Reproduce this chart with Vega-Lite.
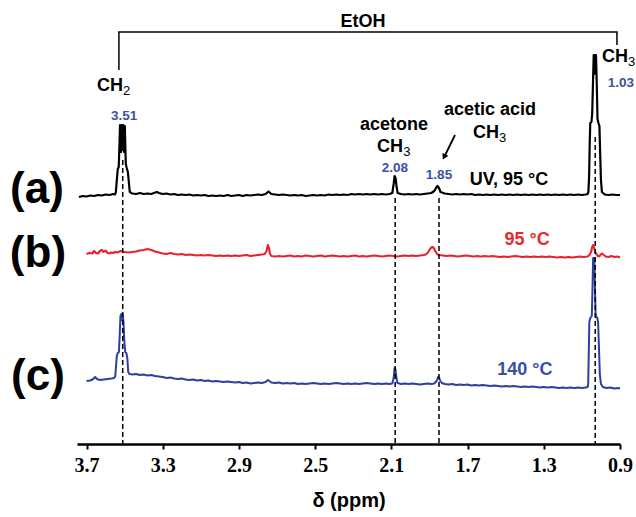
{
  "$schema": "https://vega.github.io/schema/vega-lite/v6.json",
  "width": 543,
  "height": 434,
  "autosize": {"type": "none"},
  "padding": {"left": 77, "top": 10, "right": 16, "bottom": 73},
  "config": {"view": {"stroke": null}, "font": "Liberation Sans"},
  "datasets": {
    "spec": [
      {"s":"a","x":3.74,"y":247},{"s":"a","x":3.72,"y":248},{"s":"a","x":3.70,"y":247.5},{"s":"a","x":3.68,"y":248.5},{"s":"a","x":3.66,"y":248},{"s":"a","x":3.64,"y":249},{"s":"a","x":3.62,"y":248.5},{"s":"a","x":3.60,"y":249.5},{"s":"a","x":3.58,"y":249},{"s":"a","x":3.56,"y":250},{"s":"a","x":3.55,"y":249.5},
      {"s":"a","x":3.546,"y":252},{"s":"a","x":3.541,"y":264},{"s":"a","x":3.536,"y":275},{"s":"a","x":3.531,"y":277},{"s":"a","x":3.527,"y":300},{"s":"a","x":3.524,"y":319},{"s":"a","x":3.519,"y":292},{"s":"a","x":3.515,"y":319},{"s":"a","x":3.511,"y":294},{"s":"a","x":3.507,"y":319},{"s":"a","x":3.503,"y":292},{"s":"a","x":3.499,"y":318},{"s":"a","x":3.494,"y":280},{"s":"a","x":3.489,"y":276},{"s":"a","x":3.483,"y":272},{"s":"a","x":3.478,"y":262},{"s":"a","x":3.473,"y":252},
      {"s":"a","x":3.46,"y":250.5},{"s":"a","x":3.44,"y":250},{"s":"a","x":3.42,"y":251},{"s":"a","x":3.40,"y":250},{"s":"a","x":3.38,"y":250.5},{"s":"a","x":3.36,"y":250},{"s":"a","x":3.34,"y":251.5},{"s":"a","x":3.33,"y":252},{"s":"a","x":3.32,"y":251},{"s":"a","x":3.30,"y":250},{"s":"a","x":3.28,"y":250.5},{"s":"a","x":3.26,"y":249.5},{"s":"a","x":3.24,"y":250},{"s":"a","x":3.22,"y":249},{"s":"a","x":3.20,"y":249.5},{"s":"a","x":3.18,"y":249},{"s":"a","x":3.16,"y":249.5},{"s":"a","x":3.14,"y":248.5},{"s":"a","x":3.12,"y":249},{"s":"a","x":3.10,"y":248.5},{"s":"a","x":3.08,"y":249},{"s":"a","x":3.06,"y":248},{"s":"a","x":3.04,"y":248.5},{"s":"a","x":3.02,"y":248},{"s":"a","x":3.00,"y":248.5},{"s":"a","x":2.98,"y":248},{"s":"a","x":2.96,"y":249},{"s":"a","x":2.94,"y":248},{"s":"a","x":2.92,"y":248.5},{"s":"a","x":2.90,"y":249},{"s":"a","x":2.88,"y":248},{"s":"a","x":2.86,"y":249},{"s":"a","x":2.84,"y":248.5},{"s":"a","x":2.82,"y":249},{"s":"a","x":2.80,"y":249.5},{"s":"a","x":2.78,"y":249},{"s":"a","x":2.76,"y":250},{"s":"a","x":2.745,"y":252.5},{"s":"a","x":2.73,"y":250},{"s":"a","x":2.71,"y":249.5},{"s":"a","x":2.69,"y":249},{"s":"a","x":2.67,"y":249.5},{"s":"a","x":2.65,"y":249},{"s":"a","x":2.63,"y":248.5},{"s":"a","x":2.61,"y":249},{"s":"a","x":2.59,"y":248.5},{"s":"a","x":2.57,"y":249},{"s":"a","x":2.55,"y":248},{"s":"a","x":2.53,"y":248.5},{"s":"a","x":2.51,"y":249},{"s":"a","x":2.49,"y":248.5},{"s":"a","x":2.47,"y":249},{"s":"a","x":2.45,"y":248.5},{"s":"a","x":2.43,"y":249.5},{"s":"a","x":2.41,"y":249},{"s":"a","x":2.39,"y":249.5},{"s":"a","x":2.37,"y":249},{"s":"a","x":2.35,"y":249.5},{"s":"a","x":2.33,"y":249},{"s":"a","x":2.31,"y":250},{"s":"a","x":2.29,"y":249.5},{"s":"a","x":2.27,"y":250},{"s":"a","x":2.25,"y":249.5},{"s":"a","x":2.23,"y":250},{"s":"a","x":2.21,"y":249.5},{"s":"a","x":2.19,"y":250},{"s":"a","x":2.17,"y":249.5},{"s":"a","x":2.15,"y":250},{"s":"a","x":2.13,"y":249.5},{"s":"a","x":2.11,"y":250},
      {"s":"a","x":2.095,"y":251},{"s":"a","x":2.088,"y":260},{"s":"a","x":2.083,"y":268},{"s":"a","x":2.078,"y":266},{"s":"a","x":2.073,"y":258},{"s":"a","x":2.067,"y":251},
      {"s":"a","x":2.05,"y":250},{"s":"a","x":2.03,"y":249.5},{"s":"a","x":2.01,"y":250},{"s":"a","x":1.99,"y":249.5},{"s":"a","x":1.97,"y":250},{"s":"a","x":1.95,"y":249.5},{"s":"a","x":1.93,"y":250},{"s":"a","x":1.91,"y":250.5},{"s":"a","x":1.89,"y":251},
      {"s":"a","x":1.875,"y":253},{"s":"a","x":1.866,"y":256},{"s":"a","x":1.858,"y":258},{"s":"a","x":1.85,"y":256},{"s":"a","x":1.842,"y":252},
      {"s":"a","x":1.82,"y":250.5},{"s":"a","x":1.80,"y":250},{"s":"a","x":1.78,"y":249.5},{"s":"a","x":1.76,"y":250},{"s":"a","x":1.74,"y":249.5},{"s":"a","x":1.72,"y":250},{"s":"a","x":1.70,"y":249.5},{"s":"a","x":1.68,"y":250},{"s":"a","x":1.66,"y":249},{"s":"a","x":1.64,"y":249.5},{"s":"a","x":1.62,"y":249},{"s":"a","x":1.60,"y":249.5},{"s":"a","x":1.58,"y":249},{"s":"a","x":1.56,"y":249.5},{"s":"a","x":1.54,"y":249},{"s":"a","x":1.52,"y":249.5},{"s":"a","x":1.50,"y":249},{"s":"a","x":1.48,"y":249.5},{"s":"a","x":1.46,"y":249},{"s":"a","x":1.44,"y":249.5},{"s":"a","x":1.42,"y":249},{"s":"a","x":1.40,"y":249.5},{"s":"a","x":1.38,"y":249},{"s":"a","x":1.36,"y":249.5},{"s":"a","x":1.34,"y":249},{"s":"a","x":1.32,"y":249.5},{"s":"a","x":1.30,"y":249},{"s":"a","x":1.28,"y":249.5},{"s":"a","x":1.26,"y":249},{"s":"a","x":1.24,"y":249.5},{"s":"a","x":1.22,"y":249},{"s":"a","x":1.20,"y":249.5},{"s":"a","x":1.18,"y":249},{"s":"a","x":1.16,"y":249.5},{"s":"a","x":1.14,"y":249},{"s":"a","x":1.12,"y":249.5},{"s":"a","x":1.10,"y":249},{"s":"a","x":1.08,"y":249.5},{"s":"a","x":1.07,"y":250},
      {"s":"a","x":1.066,"y":252},{"s":"a","x":1.062,"y":268},{"s":"a","x":1.059,"y":300},{"s":"a","x":1.056,"y":321},{"s":"a","x":1.050,"y":322},{"s":"a","x":1.046,"y":330},{"s":"a","x":1.042,"y":360},{"s":"a","x":1.038,"y":389},{"s":"a","x":1.035,"y":370},{"s":"a","x":1.032,"y":389},{"s":"a","x":1.029,"y":372},{"s":"a","x":1.026,"y":389},{"s":"a","x":1.022,"y":360},{"s":"a","x":1.018,"y":325},{"s":"a","x":1.013,"y":321},{"s":"a","x":1.008,"y":318},{"s":"a","x":1.004,"y":290},{"s":"a","x":1.000,"y":264},{"s":"a","x":0.995,"y":252},
      {"s":"a","x":0.98,"y":249.5},{"s":"a","x":0.96,"y":249},{"s":"a","x":0.94,"y":249.5},{"s":"a","x":0.92,"y":249},{"s":"a","x":0.90,"y":249},

      {"s":"b","x":3.70,"y":190},{"s":"b","x":3.685,"y":191},{"s":"b","x":3.67,"y":190.5},{"s":"b","x":3.66,"y":193},{"s":"b","x":3.65,"y":191},{"s":"b","x":3.64,"y":190.5},{"s":"b","x":3.63,"y":193},{"s":"b","x":3.62,"y":194},{"s":"b","x":3.61,"y":192},{"s":"b","x":3.60,"y":193.5},{"s":"b","x":3.59,"y":191},{"s":"b","x":3.58,"y":190.5},{"s":"b","x":3.57,"y":191.5},{"s":"b","x":3.56,"y":191},{"s":"b","x":3.55,"y":192},{"s":"b","x":3.54,"y":191.5},{"s":"b","x":3.52,"y":193},{"s":"b","x":3.50,"y":192},{"s":"b","x":3.48,"y":191.5},{"s":"b","x":3.46,"y":192},{"s":"b","x":3.44,"y":192.5},{"s":"b","x":3.42,"y":193.5},{"s":"b","x":3.40,"y":194},{"s":"b","x":3.38,"y":195},{"s":"b","x":3.36,"y":194},{"s":"b","x":3.34,"y":192.5},{"s":"b","x":3.32,"y":191.5},{"s":"b","x":3.30,"y":190.5},{"s":"b","x":3.28,"y":190},{"s":"b","x":3.26,"y":191},{"s":"b","x":3.24,"y":190},{"s":"b","x":3.22,"y":189.5},{"s":"b","x":3.20,"y":190},{"s":"b","x":3.18,"y":189},{"s":"b","x":3.16,"y":189.5},{"s":"b","x":3.14,"y":189},{"s":"b","x":3.12,"y":188.5},{"s":"b","x":3.10,"y":189},{"s":"b","x":3.08,"y":188.5},{"s":"b","x":3.06,"y":189},{"s":"b","x":3.04,"y":188.5},{"s":"b","x":3.02,"y":188},{"s":"b","x":3.00,"y":188.5},{"s":"b","x":2.98,"y":188},{"s":"b","x":2.96,"y":188.5},{"s":"b","x":2.94,"y":188},{"s":"b","x":2.92,"y":188.5},{"s":"b","x":2.90,"y":188},{"s":"b","x":2.88,"y":188.5},{"s":"b","x":2.86,"y":189},{"s":"b","x":2.84,"y":188},{"s":"b","x":2.82,"y":188.5},{"s":"b","x":2.80,"y":189},{"s":"b","x":2.78,"y":189.5},{"s":"b","x":2.765,"y":190},
      {"s":"b","x":2.755,"y":193},{"s":"b","x":2.748,"y":199},{"s":"b","x":2.742,"y":196},{"s":"b","x":2.737,"y":190},{"s":"b","x":2.73,"y":188},
      {"s":"b","x":2.71,"y":187.5},{"s":"b","x":2.69,"y":188},{"s":"b","x":2.67,"y":187.5},{"s":"b","x":2.65,"y":188},{"s":"b","x":2.63,"y":188.5},{"s":"b","x":2.61,"y":187.5},{"s":"b","x":2.59,"y":188},{"s":"b","x":2.57,"y":187.5},{"s":"b","x":2.55,"y":188.5},{"s":"b","x":2.53,"y":188},{"s":"b","x":2.51,"y":187.5},{"s":"b","x":2.49,"y":188},{"s":"b","x":2.47,"y":188.5},{"s":"b","x":2.45,"y":187.5},{"s":"b","x":2.43,"y":188},{"s":"b","x":2.41,"y":188.5},{"s":"b","x":2.39,"y":188},{"s":"b","x":2.37,"y":187.5},{"s":"b","x":2.35,"y":188},{"s":"b","x":2.33,"y":187.5},{"s":"b","x":2.31,"y":188},{"s":"b","x":2.29,"y":188.5},{"s":"b","x":2.27,"y":187.5},{"s":"b","x":2.25,"y":188},{"s":"b","x":2.23,"y":187.5},{"s":"b","x":2.21,"y":188},{"s":"b","x":2.19,"y":188.5},{"s":"b","x":2.17,"y":188},{"s":"b","x":2.15,"y":187.5},{"s":"b","x":2.13,"y":188},{"s":"b","x":2.11,"y":188.5},{"s":"b","x":2.09,"y":188},{"s":"b","x":2.07,"y":187.5},{"s":"b","x":2.05,"y":188},{"s":"b","x":2.03,"y":188.5},{"s":"b","x":2.01,"y":188},{"s":"b","x":1.99,"y":188.5},{"s":"b","x":1.97,"y":188},{"s":"b","x":1.95,"y":188.5},{"s":"b","x":1.93,"y":189},
      {"s":"b","x":1.92,"y":189.5},{"s":"b","x":1.91,"y":191},{"s":"b","x":1.90,"y":194},{"s":"b","x":1.893,"y":196},{"s":"b","x":1.885,"y":197},{"s":"b","x":1.877,"y":196},{"s":"b","x":1.87,"y":193},{"s":"b","x":1.86,"y":190},{"s":"b","x":1.85,"y":189},
      {"s":"b","x":1.83,"y":188.5},{"s":"b","x":1.81,"y":188},{"s":"b","x":1.79,"y":188.5},{"s":"b","x":1.77,"y":188},{"s":"b","x":1.75,"y":187.5},{"s":"b","x":1.73,"y":188},{"s":"b","x":1.71,"y":188.5},{"s":"b","x":1.69,"y":188},{"s":"b","x":1.67,"y":187.5},{"s":"b","x":1.65,"y":188},{"s":"b","x":1.63,"y":187.5},{"s":"b","x":1.61,"y":188},{"s":"b","x":1.59,"y":187.5},{"s":"b","x":1.57,"y":188},{"s":"b","x":1.55,"y":187.5},{"s":"b","x":1.53,"y":187},{"s":"b","x":1.51,"y":187.5},{"s":"b","x":1.49,"y":187},{"s":"b","x":1.47,"y":187.5},{"s":"b","x":1.45,"y":188},{"s":"b","x":1.43,"y":187.5},{"s":"b","x":1.41,"y":187},{"s":"b","x":1.39,"y":187.5},{"s":"b","x":1.37,"y":187},{"s":"b","x":1.35,"y":187.5},{"s":"b","x":1.33,"y":187},{"s":"b","x":1.31,"y":187.5},{"s":"b","x":1.29,"y":187},{"s":"b","x":1.27,"y":187.5},{"s":"b","x":1.25,"y":187},{"s":"b","x":1.23,"y":186.5},{"s":"b","x":1.21,"y":187},{"s":"b","x":1.19,"y":186.5},{"s":"b","x":1.17,"y":187},{"s":"b","x":1.15,"y":186.5},{"s":"b","x":1.13,"y":187},{"s":"b","x":1.11,"y":187.5},{"s":"b","x":1.09,"y":187},{"s":"b","x":1.07,"y":187.5},
      {"s":"b","x":1.06,"y":189},{"s":"b","x":1.052,"y":192},{"s":"b","x":1.046,"y":197},{"s":"b","x":1.041,"y":199},{"s":"b","x":1.036,"y":196},{"s":"b","x":1.03,"y":192},{"s":"b","x":1.024,"y":190},{"s":"b","x":1.018,"y":188},{"s":"b","x":1.01,"y":187.5},{"s":"b","x":1.003,"y":189},{"s":"b","x":0.995,"y":190.5},{"s":"b","x":0.985,"y":189},{"s":"b","x":0.975,"y":187.5},{"s":"b","x":0.96,"y":187},{"s":"b","x":0.945,"y":188},{"s":"b","x":0.93,"y":187},{"s":"b","x":0.915,"y":187.5},{"s":"b","x":0.90,"y":186.5},

      {"s":"c","x":3.70,"y":63},{"s":"c","x":3.68,"y":63.5},{"s":"c","x":3.665,"y":65},{"s":"c","x":3.655,"y":67},{"s":"c","x":3.645,"y":65},{"s":"c","x":3.63,"y":64},{"s":"c","x":3.61,"y":64.5},{"s":"c","x":3.59,"y":65},{"s":"c","x":3.57,"y":65.5},{"s":"c","x":3.555,"y":66},{"s":"c","x":3.549,"y":68},
      {"s":"c","x":3.546,"y":76},{"s":"c","x":3.541,"y":88},{"s":"c","x":3.536,"y":91},{"s":"c","x":3.530,"y":92},{"s":"c","x":3.526,"y":108},{"s":"c","x":3.522,"y":128},{"s":"c","x":3.518,"y":130},{"s":"c","x":3.514,"y":124},{"s":"c","x":3.510,"y":130},{"s":"c","x":3.506,"y":122},{"s":"c","x":3.502,"y":104},{"s":"c","x":3.497,"y":92},{"s":"c","x":3.491,"y":91},{"s":"c","x":3.486,"y":86},{"s":"c","x":3.481,"y":72},{"s":"c","x":3.475,"y":70},
      {"s":"c","x":3.46,"y":69.5},{"s":"c","x":3.44,"y":70},{"s":"c","x":3.42,"y":69},{"s":"c","x":3.40,"y":69.5},{"s":"c","x":3.38,"y":68.5},{"s":"c","x":3.36,"y":69},{"s":"c","x":3.34,"y":68},{"s":"c","x":3.32,"y":67.5},{"s":"c","x":3.30,"y":67},{"s":"c","x":3.28,"y":66},{"s":"c","x":3.26,"y":66.5},{"s":"c","x":3.24,"y":65.5},{"s":"c","x":3.22,"y":65},{"s":"c","x":3.20,"y":65.5},{"s":"c","x":3.18,"y":64.5},{"s":"c","x":3.16,"y":64},{"s":"c","x":3.14,"y":64.5},{"s":"c","x":3.12,"y":63.5},{"s":"c","x":3.10,"y":64},{"s":"c","x":3.08,"y":63},{"s":"c","x":3.06,"y":63.5},{"s":"c","x":3.04,"y":62.5},{"s":"c","x":3.02,"y":63},{"s":"c","x":3.00,"y":62.5},{"s":"c","x":2.98,"y":62},{"s":"c","x":2.96,"y":62.5},{"s":"c","x":2.94,"y":62},{"s":"c","x":2.92,"y":61.5},{"s":"c","x":2.90,"y":62},{"s":"c","x":2.88,"y":61},{"s":"c","x":2.86,"y":61.5},{"s":"c","x":2.84,"y":60.5},{"s":"c","x":2.82,"y":61},{"s":"c","x":2.80,"y":61.5},{"s":"c","x":2.78,"y":61},{"s":"c","x":2.76,"y":62},{"s":"c","x":2.748,"y":64},{"s":"c","x":2.74,"y":63},{"s":"c","x":2.73,"y":61.5},
      {"s":"c","x":2.71,"y":61},{"s":"c","x":2.69,"y":61.5},{"s":"c","x":2.67,"y":60.5},{"s":"c","x":2.65,"y":61},{"s":"c","x":2.63,"y":60.5},{"s":"c","x":2.61,"y":61},{"s":"c","x":2.59,"y":60},{"s":"c","x":2.57,"y":60.5},{"s":"c","x":2.55,"y":60},{"s":"c","x":2.53,"y":60.5},{"s":"c","x":2.51,"y":61},{"s":"c","x":2.49,"y":60.5},{"s":"c","x":2.47,"y":60},{"s":"c","x":2.45,"y":60.5},{"s":"c","x":2.43,"y":60},{"s":"c","x":2.41,"y":60.5},{"s":"c","x":2.39,"y":61},{"s":"c","x":2.37,"y":60.5},{"s":"c","x":2.35,"y":60},{"s":"c","x":2.33,"y":60.5},{"s":"c","x":2.31,"y":60},{"s":"c","x":2.29,"y":60.5},{"s":"c","x":2.27,"y":60},{"s":"c","x":2.25,"y":60.5},{"s":"c","x":2.23,"y":61},{"s":"c","x":2.21,"y":60.5},{"s":"c","x":2.19,"y":60},{"s":"c","x":2.17,"y":60.5},{"s":"c","x":2.15,"y":60},{"s":"c","x":2.13,"y":60.5},{"s":"c","x":2.11,"y":60},{"s":"c","x":2.095,"y":60.5},
      {"s":"c","x":2.088,"y":66},{"s":"c","x":2.083,"y":76},{"s":"c","x":2.079,"y":75},{"s":"c","x":2.074,"y":67},{"s":"c","x":2.068,"y":61},
      {"s":"c","x":2.05,"y":60},{"s":"c","x":2.03,"y":60.5},{"s":"c","x":2.01,"y":60},{"s":"c","x":1.99,"y":60.5},{"s":"c","x":1.97,"y":60},{"s":"c","x":1.95,"y":59.5},{"s":"c","x":1.93,"y":60},{"s":"c","x":1.91,"y":60.5},{"s":"c","x":1.89,"y":60},{"s":"c","x":1.875,"y":60.5},
      {"s":"c","x":1.862,"y":63},{"s":"c","x":1.855,"y":67},{"s":"c","x":1.849,"y":66},{"s":"c","x":1.843,"y":63},{"s":"c","x":1.835,"y":61},
      {"s":"c","x":1.82,"y":60},{"s":"c","x":1.80,"y":59.5},{"s":"c","x":1.78,"y":60},{"s":"c","x":1.76,"y":59},{"s":"c","x":1.74,"y":59.5},{"s":"c","x":1.72,"y":59},{"s":"c","x":1.70,"y":59.5},{"s":"c","x":1.68,"y":58.5},{"s":"c","x":1.66,"y":59},{"s":"c","x":1.64,"y":58.5},{"s":"c","x":1.62,"y":59},{"s":"c","x":1.60,"y":58.5},{"s":"c","x":1.58,"y":58},{"s":"c","x":1.56,"y":58.5},{"s":"c","x":1.54,"y":58},{"s":"c","x":1.52,"y":57.5},{"s":"c","x":1.50,"y":58},{"s":"c","x":1.48,"y":57.5},{"s":"c","x":1.46,"y":58},{"s":"c","x":1.44,"y":57.5},{"s":"c","x":1.42,"y":57},{"s":"c","x":1.40,"y":57.5},{"s":"c","x":1.38,"y":57},{"s":"c","x":1.36,"y":57.5},{"s":"c","x":1.34,"y":57},{"s":"c","x":1.32,"y":56.5},{"s":"c","x":1.30,"y":57},{"s":"c","x":1.28,"y":56.5},{"s":"c","x":1.26,"y":57},{"s":"c","x":1.24,"y":56.5},{"s":"c","x":1.22,"y":56},{"s":"c","x":1.20,"y":56.5},{"s":"c","x":1.18,"y":56},{"s":"c","x":1.16,"y":56.5},{"s":"c","x":1.14,"y":56},{"s":"c","x":1.12,"y":56.5},{"s":"c","x":1.10,"y":56},{"s":"c","x":1.08,"y":56.5},{"s":"c","x":1.07,"y":57},
      {"s":"c","x":1.067,"y":60},{"s":"c","x":1.064,"y":90},{"s":"c","x":1.061,"y":122},{"s":"c","x":1.056,"y":126},{"s":"c","x":1.052,"y":127},{"s":"c","x":1.048,"y":128},{"s":"c","x":1.045,"y":150},{"s":"c","x":1.041,"y":186},{"s":"c","x":1.038,"y":175},{"s":"c","x":1.035,"y":186},{"s":"c","x":1.032,"y":160},{"s":"c","x":1.028,"y":130},{"s":"c","x":1.024,"y":127},{"s":"c","x":1.019,"y":126},{"s":"c","x":1.015,"y":122},{"s":"c","x":1.011,"y":100},{"s":"c","x":1.006,"y":70},{"s":"c","x":1.000,"y":60},
      {"s":"c","x":0.99,"y":57},{"s":"c","x":0.97,"y":56},{"s":"c","x":0.95,"y":56.5},{"s":"c","x":0.93,"y":55.5},{"s":"c","x":0.91,"y":56},{"s":"c","x":0.90,"y":55.5}
    ],
    "dashes": [
      {"x":3.51,"y":284},{"x":2.08,"y":246},{"x":1.85,"y":246},{"x":1.03,"y":307}
    ],
    "bracket": [
      {"o":1,"x":3.530,"y":374},{"o":2,"x":3.530,"y":412},{"o":3,"x":0.916,"y":412},{"o":4,"x":0.916,"y":399}
    ],
    "arrow": [
      {"x":1.766,"y":309,"x2":1.820,"y2":288}
    ],
    "arrowhead": [
      {"x":1.823,"y":287}
    ],
    "blackText": [
      {"x":2.249,"y":417,"t":"EtOH"},
      {"x":2.086,"y":314,"t":"acetone"},
      {"x":1.582,"y":329,"t":"acetic acid"},
      {"x":1.483,"y":259,"t":"UV, 95 °C"}
    ],
    "chText": [
      {"x":3.645,"y":353,"t":"CH"},
      {"x":0.995,"y":382,"t":"CH"},
      {"x":2.175,"y":292,"t":"CH"},
      {"x":1.672,"y":306,"t":"CH"}
    ],
    "subText": [
      {"x":3.508,"y":349,"t":"2"},
      {"x":0.858,"y":378,"t":"3"},
      {"x":2.038,"y":288,"t":"3"},
      {"x":1.535,"y":302,"t":"3"}
    ],
    "valueText": [
      {"x":3.503,"y":324,"t":"3.51"},
      {"x":0.895,"y":357,"t":"1.03"},
      {"x":2.081,"y":272,"t":"2.08"},
      {"x":1.850,"y":265,"t":"1.85"}
    ],
    "redText": [
      {"x":1.388,"y":199,"t":"95 °C"}
    ],
    "blueText": [
      {"x":1.399,"y":69,"t":"140 °C"}
    ],
    "panelText": [
      {"x":3.96,"y":241,"t":"(a)"},
      {"x":3.955,"y":177,"t":"(b)"},
      {"x":3.955,"y":54,"t":"(c)"}
    ]
  },
  "layer": [
    {
      "data": {"name": "spec"},
      "mark": {"type": "line", "interpolate": "linear", "strokeJoin": "round"},
      "encoding": {
        "x": {
          "field": "x", "type": "quantitative",
          "scale": {"domain": [0.9, 3.75], "reverse": true, "nice": false, "zero": false},
          "axis": {
            "title": "δ (ppm)",
            "values": [3.7,3.6,3.5,3.4,3.3,3.2,3.1,3.0,2.9,2.8,2.7,2.6,2.5,2.4,2.3,2.2,2.1,2.0,1.9,1.8,1.7,1.6,1.5,1.4,1.3,1.2,1.1,1.0,0.9],
            "labelExpr": "abs(round((3.7 - datum.value) * 10)) % 4 == 0 ? format(datum.value, '.1f') : ''",
            "labelFont": "Liberation Sans Narrow",
            "labelFontWeight": "bold",
            "labelFontSize": 20,
            "labelColor": "#000000",
            "labelPadding": 6,
            "labelFlush": false,
            "labelOverlap": false,
            "domainColor": "#000000",
            "domainWidth": 2.5,
            "tickColor": "#000000",
            "tickWidth": 2,
            "tickSize": 5,
            "grid": false,
            "titleFont": "Liberation Sans",
            "titleFontWeight": "bold",
            "titleFontSize": 20,
            "titleColor": "#000000",
            "titlePadding": 15
          }
        },
        "y": {
          "field": "y", "type": "quantitative",
          "scale": {"domain": [0, 434], "nice": false, "zero": false},
          "axis": null
        },
        "color": {
          "field": "s", "type": "nominal",
          "scale": {"domain": ["a", "b", "c"], "range": ["#000000", "#e8212c", "#2e3f9d"]},
          "legend": null
        },
        "strokeWidth": {
          "field": "s", "type": "nominal",
          "scale": {"domain": ["a", "b", "c"], "range": [2.2, 2, 2.6]},
          "legend": null
        }
      }
    },
    {
      "data": {"name": "dashes"},
      "mark": {"type": "rule", "color": "#000000", "strokeWidth": 1.5, "strokeDash": [5, 3]},
      "encoding": {
        "x": {"field": "x", "type": "quantitative"},
        "y": {"field": "y", "type": "quantitative"},
        "y2": {"datum": 0}
      }
    },
    {
      "data": {"name": "bracket"},
      "mark": {"type": "line", "color": "#000000", "strokeWidth": 1.5},
      "encoding": {
        "x": {"field": "x", "type": "quantitative"},
        "y": {"field": "y", "type": "quantitative"},
        "order": {"field": "o", "type": "quantitative"}
      }
    },
    {
      "data": {"name": "arrow"},
      "mark": {"type": "rule", "color": "#000000", "strokeWidth": 1.8},
      "encoding": {
        "x": {"field": "x", "type": "quantitative"},
        "y": {"field": "y", "type": "quantitative"},
        "x2": {"field": "x2"},
        "y2": {"field": "y2"}
      }
    },
    {
      "data": {"name": "arrowhead"},
      "mark": {"type": "point", "shape": "triangle-down", "filled": true, "color": "#000000", "size": 45, "angle": 25.6, "opacity": 1},
      "encoding": {
        "x": {"field": "x", "type": "quantitative"},
        "y": {"field": "y", "type": "quantitative"}
      }
    },
    {
      "data": {"name": "blackText"},
      "mark": {"type": "text", "font": "Liberation Sans", "fontWeight": "bold", "fontSize": 18, "color": "#000000", "align": "center", "baseline": "alphabetic"},
      "encoding": {
        "x": {"field": "x", "type": "quantitative"},
        "y": {"field": "y", "type": "quantitative"},
        "text": {"field": "t"}
      }
    },
    {
      "data": {"name": "chText"},
      "mark": {"type": "text", "font": "Liberation Sans", "fontWeight": "bold", "fontSize": 18, "color": "#000000", "align": "left", "baseline": "alphabetic"},
      "encoding": {
        "x": {"field": "x", "type": "quantitative"},
        "y": {"field": "y", "type": "quantitative"},
        "text": {"field": "t"}
      }
    },
    {
      "data": {"name": "subText"},
      "mark": {"type": "text", "font": "Liberation Sans", "fontWeight": "normal", "fontSize": 13, "color": "#000000", "align": "left", "baseline": "alphabetic"},
      "encoding": {
        "x": {"field": "x", "type": "quantitative"},
        "y": {"field": "y", "type": "quantitative"},
        "text": {"field": "t"}
      }
    },
    {
      "data": {"name": "valueText"},
      "mark": {"type": "text", "font": "Liberation Sans", "fontWeight": "bold", "fontSize": 13.5, "color": "#3b50a8", "align": "center", "baseline": "alphabetic"},
      "encoding": {
        "x": {"field": "x", "type": "quantitative"},
        "y": {"field": "y", "type": "quantitative"},
        "text": {"field": "t"}
      }
    },
    {
      "data": {"name": "redText"},
      "mark": {"type": "text", "font": "Liberation Sans", "fontWeight": "bold", "fontSize": 18, "color": "#e52a30", "align": "center", "baseline": "alphabetic"},
      "encoding": {
        "x": {"field": "x", "type": "quantitative"},
        "y": {"field": "y", "type": "quantitative"},
        "text": {"field": "t"}
      }
    },
    {
      "data": {"name": "blueText"},
      "mark": {"type": "text", "font": "Liberation Sans", "fontWeight": "bold", "fontSize": 18, "color": "#3a4ea4", "align": "center", "baseline": "alphabetic"},
      "encoding": {
        "x": {"field": "x", "type": "quantitative"},
        "y": {"field": "y", "type": "quantitative"},
        "text": {"field": "t"}
      }
    },
    {
      "data": {"name": "panelText"},
      "mark": {"type": "text", "font": "Liberation Sans", "fontWeight": "bold", "fontSize": 44, "color": "#000000", "align": "center", "baseline": "alphabetic"},
      "encoding": {
        "x": {"field": "x", "type": "quantitative"},
        "y": {"field": "y", "type": "quantitative"},
        "text": {"field": "t"}
      }
    }
  ]
}
